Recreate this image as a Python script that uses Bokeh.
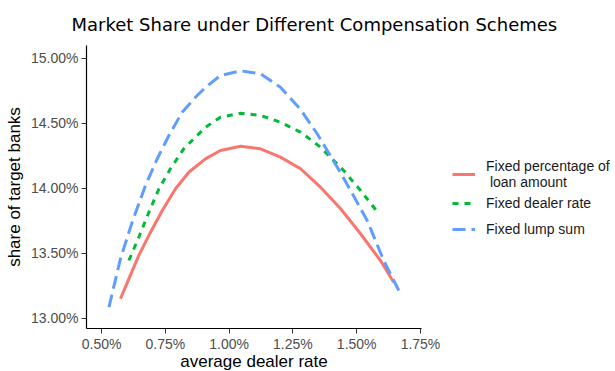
from bokeh.plotting import figure
from bokeh.models import (FixedTicker, PrintfTickFormatter, Legend, LegendItem, Title)
from bokeh.embed import file_html
from bokeh.resources import INLINE

# ---- data (percent units) ----
fixed_pct_x = [0.574, 0.607, 0.646, 0.692, 0.738, 0.790, 0.842, 0.907, 0.966, 1.045,
               1.123, 1.201, 1.280, 1.358, 1.437, 1.515, 1.593, 1.645]
fixed_pct_y = [13.152, 13.305, 13.485, 13.664, 13.831, 13.998, 14.125, 14.228, 14.292, 14.325,
               14.305, 14.241, 14.152, 14.010, 13.844, 13.652, 13.446, 13.279]

dealer_rate_x = [0.607, 0.646, 0.685, 0.725, 0.770, 0.822, 0.868, 0.908, 0.966, 1.045,
                 1.123, 1.201, 1.280, 1.358, 1.449, 1.515, 1.587]
dealer_rate_y = [13.446, 13.625, 13.815, 13.998, 14.152, 14.305, 14.395, 14.472, 14.548, 14.579,
                 14.562, 14.510, 14.433, 14.318, 14.138, 13.985, 13.805]

lump_sum_x = [0.529, 0.574, 0.620, 0.672, 0.718, 0.764, 0.816, 0.868, 0.908, 0.966,
              1.045, 1.123, 1.201, 1.280, 1.345, 1.424, 1.476, 1.541, 1.606, 1.665]
lump_sum_y = [13.087, 13.459, 13.741, 14.023, 14.228, 14.408, 14.587, 14.702, 14.779, 14.869,
              14.905, 14.882, 14.779, 14.608, 14.421, 14.164, 13.985, 13.754, 13.446, 13.215]

x_ticks = [0.50, 0.75, 1.00, 1.25, 1.50, 1.75]
y_ticks = [13.0, 13.5, 14.0, 14.5, 15.0]

series_labels = ["Fixed percentage of\n loan amount", "Fixed dealer rate", "Fixed lump sum"]

p = figure(frame_width=335, frame_height=283, output_backend="svg", toolbar_location=None,
           x_range=(0.441, 1.754), y_range=(12.923, 15.10),
           min_border_left=86, min_border_right=10, min_border_top=45, min_border_bottom=42)

p.outline_line_color = None
p.xgrid.visible = False
p.ygrid.visible = False
p.background_fill_color = "white"

r1 = p.line(fixed_pct_x, fixed_pct_y, line_color="#F8766D", line_width=3)
r2 = p.line(dealer_rate_x, dealer_rate_y, line_color="#00BA38", line_width=3, line_dash="6 6")
r3 = p.line(lump_sum_x, lump_sum_y, line_color="#619CFF", line_width=3, line_dash="13 6")

for ax in (p.xaxis[0], p.yaxis[0]):
    ax.axis_line_color = "black"
    ax.axis_line_width = 1.2
    ax.major_tick_line_color = "#333333"
    ax.major_tick_out = 5
    ax.major_tick_in = 0
    ax.minor_tick_line_color = None
    ax.major_label_text_font = "Liberation Sans"
    ax.major_label_text_font_size = "14px"
    ax.major_label_text_color = "#4D4D4D"
    ax.axis_label_text_font = "Liberation Sans"
    ax.axis_label_text_font_size = "17px"
    ax.axis_label_text_font_style = "normal"
    ax.axis_label_text_color = "black"
    ax.major_label_standoff = 3
    ax.axis_label_standoff = 4

p.xaxis[0].ticker = FixedTicker(ticks=x_ticks)
p.yaxis[0].ticker = FixedTicker(ticks=y_ticks)
p.xaxis[0].formatter = PrintfTickFormatter(format="%.2f%%")
p.yaxis[0].formatter = PrintfTickFormatter(format="%.2f%%")
p.xaxis[0].axis_label = "average dealer rate"
p.yaxis[0].axis_label = "share of target banks"
p.xaxis[0].major_label_standoff = 2
p.xaxis[0].axis_label_standoff = -3

title = Title(text="Market Share under Different Compensation Schemes", align="left",
              text_font="DejaVu Sans", text_font_size="18px", text_font_style="normal",
              text_color="black", offset=-15, standoff=22)
p.add_layout(title, "above")

legend = Legend(items=[LegendItem(label=series_labels[0], renderers=[r1]),
                       LegendItem(label=series_labels[1], renderers=[r2]),
                       LegendItem(label=series_labels[2], renderers=[r3])],
                location=(31, 86), border_line_color=None, background_fill_alpha=0,
                label_text_font="Liberation Sans", label_text_font_size="14px",
                label_text_color="#1A1A1A", label_text_line_height=1.3,
                glyph_width=23, glyph_height=26,
                label_standoff=11, spacing=-4, padding=0, margin=0)
p.add_layout(legend, "right")

open("out.html", "w").write(file_html(p, INLINE))
